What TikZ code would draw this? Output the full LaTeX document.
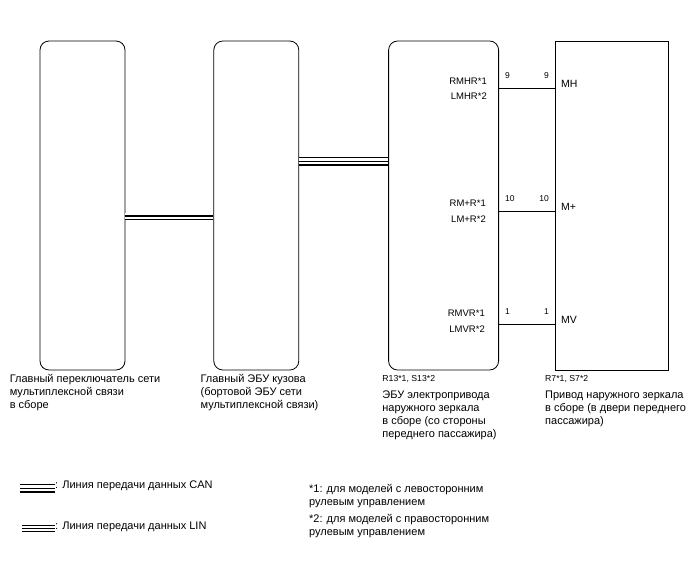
\documentclass[tikz,border=0pt]{standalone}
\usepackage{fontspec}
\setmainfont{Liberation Sans}
\usetikzlibrary{positioning}
\tikzset{
        ecu/.style={draw, rounded corners=9pt, line width=0.8pt, minimum
        width=85pt, minimum height=329pt},
        actbox/.style={draw, line width=0.8pt, minimum width=113pt,
                       minimum height=329pt},
        captxt/.style={align=left, inner sep=0pt, anchor=north west,
                       font=\fontsize{11}{13}\selectfont},
        termtxt/.style={align=right, inner sep=0pt, anchor=east,
                        font=\fontsize{9.5}{15.5}\selectfont},
        pinno/.style={inner sep=0pt, font=\fontsize{8.5}{10}\selectfont},
        pinname/.style={anchor=base west, inner sep=0pt,
                        font=\fontsize{10.5}{12}\selectfont},
        sigwire/.style={line width=0.6pt},
        canbus/.style={line width=9pt, postaction={draw=white, line
                       width=5.4pt}, postaction={draw, line width=0.7pt}},
        linbus/.style={line width=7pt, postaction={draw=white, line
                       width=5.4pt}, postaction={draw, line width=1.8pt}},
 }
\begin{document}
\begin{tikzpicture}[x=1pt, y=-1pt, font=\fontsize{11}{13}\selectfont]
    \useasboundingbox (0,0) rectangle (688,560);
    % blocks
    \node[ecu] (sw) at (82.5,205.5) {};
    \node[ecu, right=88pt of sw] (bcu) {};
    \node[ecu, minimum width=110pt, right=89pt of bcu] (mcu) {};
    \node[actbox, right=56pt of mcu] (mir) {};
    % buses
    \draw[linbus] ([yshift=-10.5pt]sw.east) -- ([yshift=-10.5pt]bcu.west);
    \draw[canbus] ([yshift=44.5pt]bcu.east) -- ([yshift=44.5pt]mcu.west);
    % wires
    \coordinate (mh1) at ([yshift=117pt]mcu.east);
    \coordinate (mh2) at ([yshift=117pt]mir.west);
    \coordinate (mp1) at ([yshift=-5.5pt]mcu.east);
    \coordinate (mp2) at ([yshift=-5.5pt]mir.west);
    \coordinate (mv1) at ([yshift=-118.5pt]mcu.east);
    \coordinate (mv2) at ([yshift=-118.5pt]mir.west);
    \draw[sigwire] (mh1) -- (mh2);
    \draw[sigwire] (mp1) -- (mp2);
    \draw[sigwire] (mv1) -- (mv2);
    \node[pinno, anchor=base west] at ([shift={(6pt,10pt)}]mh1) {9};
    \node[pinno, anchor=base east] at ([shift={(-6pt,10pt)}]mh2) {9};
    \node[pinno, anchor=base west] at ([shift={(6pt,10pt)}]mp1) {10};
    \node[pinno, anchor=base east] at ([shift={(-6pt,10pt)}]mp2) {10};
    \node[pinno, anchor=base west] at ([shift={(6pt,10pt)}]mv1) {1};
    \node[pinno, anchor=base east] at ([shift={(-6pt,10pt)}]mv2) {1};
    \node[termtxt] (mhr) at ([xshift=-12pt]mh1) {RMHR*1\\LMHR*2};
    \node[termtxt] (mpr) at ([xshift=-13pt]mp1) {RM+R*1\\LM+R*2};
    \node[termtxt] (mvr) at ([shift={(-14pt,3pt)}]mv1) {RMVR*1\\LMVR*2};
    \node[pinname] (mh) at ([shift={(6pt,1pt)}]mh2) {MH};
    \node[pinname] (mp) at ([shift={(6pt,0.5pt)}]mp2) {M+};
    \node[pinname] (mv) at ([shift={(6pt,0.5pt)}]mv2) {MV};
    % captions
    \node[captxt, below right=4pt and -30pt of sw.south west] (swtxt)
        {Главный переключатель сети\\мультиплексной связи\\в сборе};
    \node[captxt, below right=4pt and -13pt of bcu.south west] (bcutxt)
        {Главный ЭБУ кузова\\(бортовой ЭБУ сети\\мультиплексной связи)};
    \node[captxt, below right=5pt and -6pt of mcu.south west] (mcuno)
        {\fontsize{8.7}{10}\selectfont R13*1, S13*2};
    \node[captxt, below=8pt of mcuno.south west, anchor=north west] (mcutxt)
        {ЭБУ электропривода\\наружного зеркала\\в сборе (со стороны\\переднего пассажира)};
    \node[captxt, below right=5pt and -10pt of mir.south west] (mirno)
        {\fontsize{8.7}{10}\selectfont R7*1, S7*2};
    \node[captxt, below=8pt of mirno.south west, anchor=north west] (mirtxt)
        {Привод наружного зеркала\\в сборе (в двери переднего\\пассажира)};
    % legend
    \coordinate (cana) at (20,488);
    \coordinate (canb) at (55,488);
    \coordinate (lina) at (22,528.5);
    \coordinate (linb) at (55,528.5);
    \draw[canbus] (cana) -- (canb);
    \draw[linbus] (lina) -- (linb);
    \node[anchor=west, inner sep=0pt] (cantxt) at ([yshift=2pt]canb) {: Линия передачи данных CAN};
    \node[anchor=west, inner sep=0pt] (lintxt) at ([yshift=2pt]linb) {: Линия передачи данных LIN};
    \node[captxt] (note1) at (309,484) {*1: для моделей с левосторонним\\рулевым управлением};
    \node[captxt] (note2) at (309,514) {*2: для моделей с правосторонним\\рулевым управлением};
\end{tikzpicture}
\end{document}
